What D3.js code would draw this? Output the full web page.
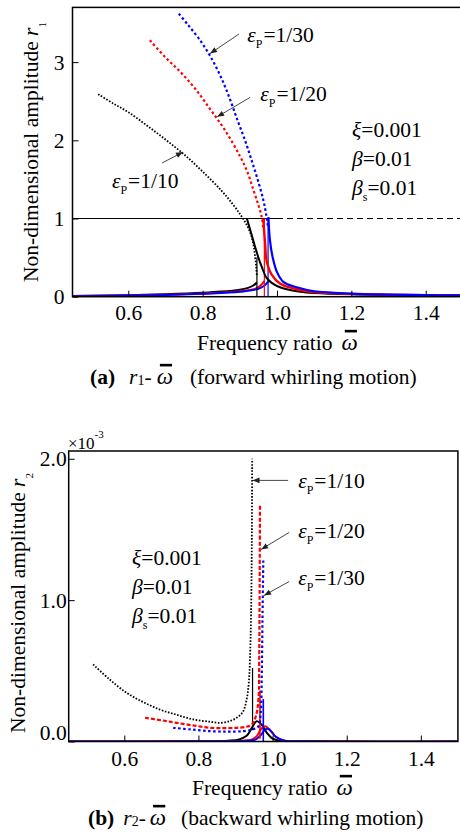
<!DOCTYPE html>
<html>
<head>
<meta charset="utf-8">
<script src="https://cdn.jsdelivr.net/npm/d3@7"></script>
<style>
  body { margin: 0; background: #fff; }
  svg { display: block; }
  text { white-space: pre; font-family: "Liberation Serif", "Times New Roman", serif; }
</style>
</head>
<body>
<svg id="chart" width="460" height="838"></svg>
<script>
// ---- ticks ----
const omegaTicks = [0.6, 0.8, 1.0, 1.2, 1.4];
const r1Ticks = [0, 1, 2, 3];
const r2Ticks = [0, 1.0, 2.0];

// ---- (a) forward whirling, r1 ----
// dotted (unstable) branches
const r1DotBlack = [[0.519,2.59],[0.56,2.47],[0.60,2.36],[0.65,2.19],[0.70,2.01],[0.75,1.82],[0.80,1.60],[0.85,1.36],[0.88,1.19],[0.90,1.06],[0.915,0.95],[0.928,0.82],[0.936,0.68],[0.941,0.52],[0.944,0.38],[0.946,0.26]];
const r1DotRed = [[0.658,3.28],[0.70,3.06],[0.739,2.88],[0.78,2.66],[0.82,2.40],[0.86,2.13],[0.90,1.80],[0.92,1.60],[0.937,1.36],[0.95,1.17],[0.959,1.02],[0.963,0.88]];
const r1DotBlue = [[0.736,3.62],[0.76,3.48],[0.79,3.30],[0.82,3.08],[0.85,2.80],[0.874,2.52],[0.895,2.24],[0.914,2.00],[0.93,1.77],[0.946,1.53],[0.963,1.24],[0.972,1.02],[0.976,0.88]];
// upper solid branches (right of peak)
const r1UpBlack = [[0.919,1.0],[0.93,0.82],[0.941,0.64],[0.95,0.50],[0.959,0.38],[0.972,0.24],[0.985,0.18],[1.0,0.137],[1.026,0.095],[1.062,0.064],[1.10,0.048],[1.2,0.030],[1.3,0.022],[1.4,0.017],[1.5,0.014]];
const r1UpRed = [[0.963,1.0],[0.968,0.68],[0.9725,0.45],[0.986,0.28],[1.008,0.17],[1.053,0.095],[1.10,0.06],[1.2,0.036],[1.3,0.025],[1.4,0.019],[1.5,0.015]];
const r1UpBlue = [[0.977,1.02],[0.981,0.725],[0.989,0.49],[0.9995,0.32],[1.017,0.19],[1.053,0.12],[1.10,0.07],[1.2,0.04],[1.3,0.027],[1.4,0.02],[1.5,0.016]];
// lower solid branches (left of jump)
const r1LowBlack = [[0.45,0.01],[0.6,0.02],[0.7,0.032],[0.8,0.05],[0.85,0.065],[0.9,0.09],[0.92,0.11],[0.935,0.14],[0.946,0.18]];
const r1LowRed = [[0.45,0.008],[0.6,0.016],[0.7,0.026],[0.8,0.042],[0.9,0.07],[0.94,0.1],[0.955,0.14],[0.966,0.2]];
const r1LowBlue = [[0.45,0.007],[0.6,0.014],[0.7,0.023],[0.8,0.038],[0.9,0.062],[0.95,0.1],[0.968,0.15],[0.977,0.2]];
// jump lines
const r1JumpBlack = [[0.946,0.0],[0.946,0.5]];
const r1JumpRed = [[0.966,0.0],[0.966,1.0]];
const r1JumpBlue = [[0.976,0.0],[0.976,1.0]];
const r1Unit = [[0.45,1],[1.0,1]];
const r1UnitDash = [[1.0,1],[1.5,1]];

// ---- (b) backward whirling, r2 (x10^-3) ----
const r2DotBlack = [[0.516,0.545],[0.56,0.44],[0.606,0.345],[0.65,0.28],[0.696,0.226],[0.74,0.19],[0.786,0.156],[0.83,0.14],[0.858,0.132],[0.885,0.145],[0.903,0.168],[0.92,0.21],[0.93,0.297],[0.936,0.42],[0.939,0.58],[0.942,0.9],[0.944,1.4],[0.945,2.0]];
const r2DotRed = [[0.656,0.168],[0.70,0.15],[0.741,0.132],[0.79,0.112],[0.831,0.097],[0.87,0.095],[0.903,0.097],[0.93,0.105],[0.944,0.12],[0.955,0.18],[0.962,0.30],[0.964,0.6],[0.965,1.0],[0.966,1.68]];
const r2DotBlue = [[0.732,0.097],[0.78,0.085],[0.831,0.073],[0.88,0.07],[0.921,0.073],[0.945,0.085],[0.962,0.108],[0.968,0.2],[0.971,0.5],[0.973,0.9],[0.975,1.28]];
const r2SolBlack = [[0.45,0.0],[0.8,0.002],[0.88,0.006],[0.91,0.015],[0.93,0.04],[0.945,0.1],[0.957,0.144],[0.97,0.12],[0.985,0.06],[1.0,0.02],[1.02,0.005],[1.1,0.001],[1.5,0.0]];
const r2SolRed = [[0.45,0.0],[0.85,0.002],[0.92,0.006],[0.945,0.015],[0.958,0.04],[0.968,0.085],[0.98,0.108],[0.99,0.09],[1.0,0.06],[1.01,0.03],[1.03,0.008],[1.1,0.001],[1.5,0.0]];
const r2SolBlue = [[0.45,0.0],[0.87,0.002],[0.93,0.005],[0.955,0.015],[0.97,0.05],[0.978,0.08],[0.987,0.09],[0.997,0.07],[1.008,0.035],[1.03,0.008],[1.1,0.001],[1.5,0.0]];
const r2JumpBlack = [[0.946,0.08],[0.946,0.52]];
const r2JumpRed = [[0.966,0.02],[0.966,0.36]];
const r2JumpBlue = [[0.975,0.0],[0.975,0.3]];

// ---- layout ----
const svg = d3.select('#chart');
const FS = 21.5;
const FONT = '"Liberation Serif", "Times New Roman", serif';

const xA = d3.scaleLinear().domain([0.45, 1.5]).range([72.5, 462.9]);
const yA = d3.scaleLinear().domain([0, 3.7]).range([296.7, 7.4]);
const xB = d3.scaleLinear().domain([0.45, 1.5]).range([68.7, 457.9]);
const yB = d3.scaleLinear().domain([0, 2.055]).range([741.5, 451]);

const colors = { black: '#000', red: '#ff0000', blue: '#0000ff' };

// defs: clip + arrow head
const defs = svg.append('defs');
[['clipA', xA, yA], ['clipB', xB, yB]].forEach(([id, x, y]) => {
  defs.append('clipPath').attr('id', id).append('rect')
    .attr('x', x.range()[0]).attr('y', y.range()[1])
    .attr('width', x.range()[1] - x.range()[0]).attr('height', y.range()[0] - y.range()[1]);
});
defs.append('marker').attr('id', 'arrow').attr('viewBox', '0 0 10 10')
  .attr('refX', 10).attr('refY', 5).attr('markerWidth', 9).attr('markerHeight', 7)
  .attr('markerUnits', 'userSpaceOnUse').attr('orient', 'auto')
  .append('path').attr('d', 'M0,1 L10,5 L0,9 Z').attr('fill', '#222');

// text with mixed styles, parts placed one after another
function rich(g, x, y, parts, opts = {}) {
  const outer = g.append('g').attr('transform', `translate(${x},${y})` + (opts.rotate ? ` rotate(${opts.rotate})` : ''));
  const inner = outer.append('g');
  let cx = 0;
  parts.forEach(p => {
    const fs = p.size || FS;
    const t = inner.append('text')
      .attr('x', cx).attr('y', p.dy || 0)
      .attr('font-family', FONT)
      .attr('font-size', fs)
      .attr('font-style', p.it ? 'italic' : null)
      .attr('font-weight', p.b ? 'bold' : null)
      .text(p.t);
    const w = t.node().getComputedTextLength();
    if (p.bar) {
      inner.append('line')
        .attr('x1', cx + w * 0.2).attr('x2', cx + w * 0.95)
        .attr('y1', -fs * 0.82).attr('y2', -fs * 0.82)
        .attr('stroke', '#000').attr('stroke-width', 2.6);
    }
    cx += w + (p.dx || 0);
  });
  if (opts.anchor === 'middle') inner.attr('transform', `translate(${-cx / 2},0)`);
  return outer;
}

function panel(x, y, clipId, xTicks, yTicks, yFmt, yPad, xLabelY, curves) {
  const g = svg.append('g');
  const plot = g.append('g').attr('clip-path', `url(#${clipId})`);
  const line = d3.line().x(d => x(d[0])).y(d => y(d[1])).curve(d3.curveCatmullRom.alpha(0.5));
  curves.forEach(c => {
    plot.append('path').datum(c.data)
      .attr('d', line)
      .attr('fill', 'none')
      .attr('stroke', c.color)
      .attr('stroke-width', c.w)
      .attr('stroke-dasharray', c.dash || null);
  });

  // axes
  const axB = g.append('g').attr('transform', `translate(0,${y.range()[0]})`)
    .call(d3.axisBottom(x).tickValues(xTicks).tickSize(-6).tickSizeOuter(0).tickPadding(xLabelY).tickFormat(d3.format('.1f')));
  const axL = g.append('g').attr('transform', `translate(${x.range()[0]},0)`)
    .call(d3.axisLeft(y).tickValues(yTicks).tickSize(-6).tickSizeOuter(0).tickPadding(yPad).tickFormat(yFmt));
  [axB, axL].forEach(a => {
    a.attr('font-family', FONT).attr('font-size', FS);
    a.select('.domain').remove();
    a.selectAll('.tick line').attr('stroke-width', 1);
  });

  // frame
  g.append('rect')
    .attr('x', x.range()[0]).attr('y', y.range()[1])
    .attr('width', x.range()[1] - x.range()[0]).attr('height', y.range()[0] - y.range()[1])
    .attr('fill', 'none').attr('stroke', '#000').attr('stroke-width', 1.5);
  return { g, axL };
}

function arrow(g, x, y, from, to) {
  g.append('line')
    .attr('x1', x(from[0])).attr('y1', y(from[1]))
    .attr('x2', x(to[0])).attr('y2', y(to[1]))
    .attr('stroke', '#333').attr('stroke-width', 0.9)
    .attr('marker-end', 'url(#arrow)');
}

function epsLabel(g, x, y, at, val) {
  rich(g, x(at[0]), y(at[1]), [
    { t: 'ε', it: true },
    { t: 'P', size: 12, dy: 6, dx: 1 },
    { t: '=' + val }
  ]);
}

function paramBlock(g, x, y, at, step) {
  rich(g, x(at[0]), y(at[1]), [{ t: 'ξ', it: true }, { t: '=0.001' }]);
  rich(g, x(at[0]), y(at[1] - step), [{ t: 'β', it: true }, { t: '=0.01' }]);
  rich(g, x(at[0]), y(at[1] - 2 * step), [{ t: 'β', it: true }, { t: 's', size: 12, dy: 6 }, { t: '=0.01' }]);
}

function caption(x, y, tag, sub, gaps, desc) {
  rich(svg, x, y, [
    { t: tag, b: true, dx: gaps[0] },
    { t: 'r', it: true }, { t: sub, size: 14, dy: 1 }, { t: '-', dx: gaps[1] },
    { t: 'ω', it: true, size: 23, bar: true, dx: gaps[2] }, { t: desc }
  ]);
}

const dotStyle = { w: 2.2, dash: '2.5,2.5' };
// ---- panel (a) ----
const pa = panel(xA, yA, 'clipA', omegaTicks, r1Ticks, d3.format('d'), 8, 8, [
  { data: r1Unit, color: '#000', w: 1.1 },
  { data: r1UnitDash, color: '#000', w: 1.1, dash: '6,4' },
  { data: r1LowBlack, color: colors.black, w: 2 },
  { data: r1LowRed, color: colors.red, w: 2 },
  { data: r1LowBlue, color: colors.blue, w: 2 },
  { data: r1JumpBlack, color: colors.black, w: 1.2 },
  { data: r1JumpRed, color: colors.red, w: 1.2 },
  { data: r1JumpBlue, color: colors.blue, w: 1.2 },
  { data: r1DotBlack, color: colors.black, w: 1.8, dash: '1.6,1.6' },
  { data: r1DotRed, color: colors.red, ...dotStyle },
  { data: r1DotBlue, color: colors.blue, ...dotStyle },
  { data: r1UpBlack, color: colors.black, w: 2 },
  { data: r1UpRed, color: colors.red, w: 2.4 },
  { data: r1UpBlue, color: colors.blue, w: 2.2 }
]);
arrow(pa.g, xA, yA, [0.898, 3.36], [0.820, 3.11]);
arrow(pa.g, xA, yA, [0.928, 2.55], [0.839, 2.30]);
arrow(pa.g, xA, yA, [0.691, 1.71], [0.747, 1.85]);
epsLabel(pa.g, xA, yA, [0.92, 3.26], '1/30');
epsLabel(pa.g, xA, yA, [0.955, 2.50], '1/20');
epsLabel(pa.g, xA, yA, [0.556, 1.39], '1/10');
paramBlock(pa.g, xA, yA, [1.202, 2.04], 0.37);

rich(svg, 38, 152, [
  { t: 'Non-dimensional amplitude ' },
  { t: 'r', it: true },
  { t: '1', size: 11, dy: 8 }
], { rotate: -90, anchor: 'middle' });
rich(svg, 197, 350, [{ t: 'Frequency ratio', dx: 9 }, { t: 'ω', it: true, size: 23, bar: true }]);
caption(90, 384, '(a)', '1', [14, 5, 17], '(forward whirling motion)');

// ---- panel (b) ----
const pb = panel(xB, yB, 'clipB', omegaTicks, r2Ticks, d3.format('.1f'), 2, 9, [
  { data: r2SolBlack, color: colors.black, w: 2 },
  { data: r2SolRed, color: colors.red, w: 2 },
  { data: r2SolBlue, color: colors.blue, w: 2 },
  { data: r2JumpBlack, color: colors.black, w: 1.2 },
  { data: r2JumpRed, color: colors.red, w: 1.6 },
  { data: r2JumpBlue, color: colors.blue, w: 1.6 },
  { data: r2DotBlack, color: colors.black, w: 1.8, dash: '1.6,1.6' },
  { data: r2DotRed, color: colors.red, w: 2.2, dash: '4,2' },
  { data: r2DotBlue, color: colors.blue, ...dotStyle }
]);
// lift the "0.0" label off the bottom axis
pb.axL.selectAll('.tick').filter(d => d === 0).select('text').attr('dy', '-0.08em');
arrow(pb.g, xB, yB, [1.042, 1.847], [0.946, 1.847]);
arrow(pb.g, xB, yB, [1.045, 1.479], [0.969, 1.359]);
arrow(pb.g, xB, yB, [1.045, 1.132], [0.977, 1.033]);
epsLabel(pb.g, xB, yB, [1.069, 1.79], '1/10');
epsLabel(pb.g, xB, yB, [1.069, 1.437], '1/20');
epsLabel(pb.g, xB, yB, [1.069, 1.104], '1/30');
paramBlock(pb.g, xB, yB, [0.621, 1.246], 0.203);

rich(svg, 68, 449, [{ t: '×10', size: 17 }, { t: '-3', size: 11, dy: -11 }]);
rich(svg, 25, 603, [
  { t: 'Non-dimensional amplitude ' },
  { t: 'r', it: true },
  { t: '2', size: 11, dy: 8 }
], { rotate: -90, anchor: 'middle' });
rich(svg, 192, 795, [{ t: 'Frequency ratio', dx: 9 }, { t: 'ω', it: true, size: 23, bar: true }]);
caption(88, 825, '(b)', '2', [9, 4, 15], '(backward whirling motion)');
</script>
</body>
</html>
